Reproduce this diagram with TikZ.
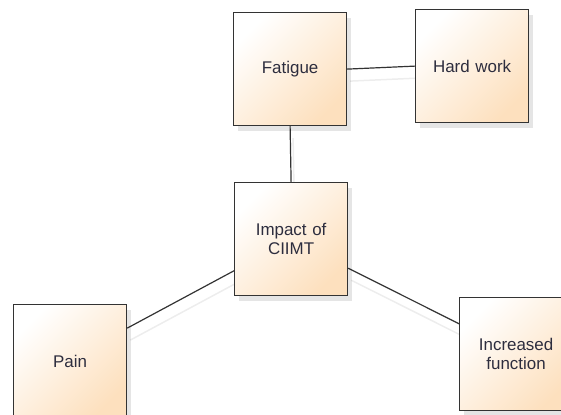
\documentclass[tikz,border=0pt]{standalone}
\usepackage{fontspec}
\setmainfont{Liberation Sans}
\usetikzlibrary{shadows,backgrounds}
\definecolor{peach}{RGB}{253,224,190}
\definecolor{edge}{RGB}{51,51,51}
\definecolor{textcol}{RGB}{45,45,62}
\newcommand{\side}{113bp}

\begin{document}
\begin{tikzpicture}[x=1bp, y=-1bp,
  box/.style={draw=edge, line width=1.2bp, rectangle, anchor=north west, minimum width=\side, minimum height=\side, inner sep=0pt, align=center, text width=100bp, font=\fontsize{17}{19.5}\selectfont, text=textcol, top color=white, bottom color=peach, shading angle=45, drop shadow={shadow xshift=4bp, shadow yshift=-5bp, fill=black, opacity=0.1}},
  link/.style={draw=edge, line width=1.2bp, preaction={draw=black!7, line width=1.5bp, transform canvas={shift={(3bp,-12bp)}}}}]
    \useasboundingbox (0,0) rectangle (561,414);

    % Top row
    \node[box] (fatigue) at (233,12) {Fatigue};
    \node[box] (hardwork) at (415,9) {Hard work};

    % Middle
    \node[box] (impact) at (234,182) {Impact of\\CIIMT};

    % Bottom row
    \node[box] (pain) at (13,304) {Pain};
    \node[box] (increased) at (459,297) {Increased\\function};

    % Links
    \begin{scope}[on background layer]
    \draw[link] (fatigue.east) -- (hardwork.west);
    \draw[link] (fatigue.south) -- (impact.north);
    \draw[link] (impact.209) -- (pain.30);
    \draw[link] (impact.333) -- (increased.152);
    \end{scope}

\end{tikzpicture}
\end{document}
